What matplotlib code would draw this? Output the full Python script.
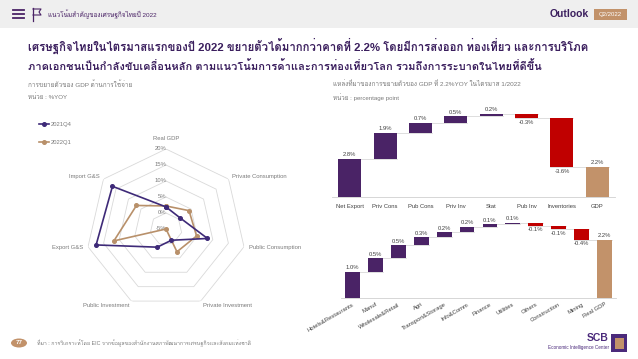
import numpy as np
import matplotlib
matplotlib.use("Agg")
import matplotlib.pyplot as plt
from matplotlib import font_manager
from matplotlib.ft2font import FT2Font
from matplotlib.patches import Rectangle, Circle
from matplotlib.lines import Line2D

# ---- data ----
radar_cats = ["Real GDP", "Private Consumption", "Public Consumption", "Private Investment",
              "Public Investment", "Export G&S", "Import G&S"]
q4_2021 = [1.9, 0.6, 8.3, -1.1, 1.3, 17.4, 16.4]
q1_2022 = [2.2, 4.2, 4.8, 2.9, -5.0, 11.7, 6.8]
radar_ticks = [-5, 0, 5, 10, 15, 20]

exp_cats = ["Net Export", "Priv Cons", "Pub Cons", "Priv Inv", "Stat", "Pub Inv", "Inventories"]
exp_vals = [2.8, 1.9, 0.7, 0.5, 0.2, -0.3, -3.6]
gdp_total = 2.2

sec_cats = ["Hotels&Restaurants", "Manuf", "Wholesale&Retail", "Agri", "Transport&Storage",
            "Info&Comm", "Finance", "Utilities", "Others", "Construction", "Mining"]
sec_vals = [1.0, 0.5, 0.5, 0.3, 0.2, 0.2, 0.1, 0.05, -0.1, -0.13, -0.4]

PURPLE = "#4a2366"
RED = "#c00000"
TAN = "#c2926a"
Q4C = "#3e2a78"
Q1C = "#b8906a"
GRAY = "#7a7a7a"


# find a font that has thai glyphs
def find_thai_font():
    for f in font_manager.fontManager.ttflist:
        try:
            if 0x0E01 in FT2Font(f.fname).get_charmap():
                return f.name
        except Exception:
            pass
    return None

thai = find_thai_font()
fams = ["Liberation Sans", "DejaVu Sans"]
if thai:
    fams = ["Liberation Sans", thai, "DejaVu Sans"]
plt.rcParams["font.family"] = fams

W, H = 638, 359
fig = plt.figure(figsize=(W / 100, H / 100), dpi=100)
fig.patch.set_facecolor("white")


def fx(x):
    return x / W


def fy(y):
    return 1 - y / H


def txt(x, y, s, **kw):
    fig.text(fx(x), fy(y), s, **kw)


# ---- header ----
fig.patches.append(Rectangle((0, fy(28)), 1, 28 / H, transform=fig.transFigure,
                             facecolor="#efefef", edgecolor="none"))
for yy in (10, 14, 18):
    fig.lines.append(Line2D([fx(13), fx(24)], [fy(yy), fy(yy)], transform=fig.transFigure,
                            color=PURPLE, lw=1.3))
fig.lines.append(Line2D([fx(33), fx(33)], [fy(8), fy(21)], transform=fig.transFigure, color=PURPLE, lw=0.9))
fig.lines.append(Line2D([fx(33), fx(41), fx(39), fx(41), fx(33)], [fy(9), fy(9), fy(12), fy(15), fy(15)],
                        transform=fig.transFigure, color=PURPLE, lw=0.8))
txt(48, 14, "แนวโน้มสำคัญของเศรษฐกิจไทยปี 2022", fontsize=4.6, color=PURPLE, va="center")
txt(589, 14, "Outlook", fontsize=7.5, color="#3b1f5e", fontweight="bold",
    ha="right", va="center")
fig.patches.append(Rectangle((fx(594), fy(20)), 33 / W, 11 / H, transform=fig.transFigure,
                             facecolor=TAN, edgecolor="none"))
txt(610.5, 14.5, "Q2/2022", fontsize=4.3, color="white", ha="center", va="center")

# ---- title ----
txt(28, 46, "เศรษฐกิจไทยในไตรมาสแรกของปี 2022 ขยายตัวได้มากกว่าคาดที่ 2.2% โดยมีการส่งออก ท่องเที่ยว และการบริโภค",
    fontsize=8.2, color="#3b1f5e", fontweight="bold", va="center")
txt(28, 67, "ภาคเอกชนเป็นกำลังขับเคลื่อนหลัก ตามแนวโน้มการค้าและการท่องเที่ยวโลก รวมถึงการระบาดในไทยที่ดีขึ้น",
    fontsize=8.0, color="#3b1f5e", fontweight="bold", va="center")

txt(28, 84, "การขยายตัวของ GDP ด้านการใช้จ่าย", fontsize=4.6, color=GRAY, va="center")
txt(333, 84, "แหล่งที่มาของการขยายตัวของ GDP ที่ 2.2%YOY ในไตรมาส 1/2022", fontsize=4.6, color=GRAY, va="center")
txt(28, 97, "หน่วย : %YOY", fontsize=4.4, color=GRAY, va="center")
txt(333, 97, "หน่วย : percentage point", fontsize=4.4, color=GRAY, va="center")

# ---- radar ----
cx, cy, R = 166, 229, 80
rax = fig.add_axes([fx(cx - R), fy(cy + R), 2 * R / W, 2 * R / H], projection="polar")
rax.set_theta_zero_location("N")
rax.set_theta_direction(-1)
rax.grid(False)
rax.spines["polar"].set_visible(False)
rax.set_xticks([])
rax.set_yticks([])
rax.patch.set_alpha(0)

ang = np.linspace(0, 2 * np.pi, len(radar_cats), endpoint=False)
ang_c = np.append(ang, ang[0])
for lv in radar_ticks[1:]:
    rax.plot(ang_c, [lv] * len(ang_c), color="#d9d9d9", lw=0.6, zorder=1)
for lv in radar_ticks:
    rax.text(0, lv, f"{lv}%", fontsize=4.2, color=GRAY, ha="right", va="center", zorder=3)

l1, = rax.plot(ang_c, q4_2021 + q4_2021[:1], color=Q4C, lw=1.2, marker="o", ms=2.6, zorder=4, label="2021Q4")
l2, = rax.plot(ang_c, q1_2022 + q1_2022[:1], color=Q1C, lw=1.2, marker="o", ms=2.6, zorder=3, label="2022Q1")
rax.set_rlim(radar_ticks[0], radar_ticks[-1])

for a, name in zip(ang, radar_cats):
    if a == 0:
        rax.text(a, 23.2, name, fontsize=4.2, color=GRAY, ha="center", va="center")
    elif a < np.pi:
        rax.text(a, 21.5, name, fontsize=4.2, color=GRAY, ha="left", va="center")
    else:
        rax.text(a, 21.5, name, fontsize=4.2, color=GRAY, ha="right", va="center")

fig.legend(handles=[l1, l2], loc="upper left", bbox_to_anchor=(fx(34), fy(117)), frameon=False,
           fontsize=4.2, handlelength=1.6, labelspacing=2.2, handletextpad=0.3,
           labelcolor=GRAY)


# ---- waterfalls ----
def waterfall(ax, cats, vals, total, total_label, ylim):
    n = len(cats)
    x = np.arange(n + 1)
    starts = np.concatenate([[0], np.cumsum(vals)[:-1]])
    cols = [PURPLE if v >= 0 else RED for v in vals]
    ax.bar(x[:n], vals, bottom=starts, width=0.65, color=cols, zorder=3)
    ax.bar(x[n], total, width=0.65, color=TAN, zorder=3)
    ends = starts + np.array(vals)
    for i in range(n):
        ax.plot([x[i] - 0.325, x[i + 1] + 0.325], [ends[i], ends[i]], color="#d0d0d0", lw=0.5, zorder=2)
    off = ylim[1] * 0.02
    for i, v in enumerate(vals):
        if v >= 0:
            ax.text(x[i], ends[i] + off, f"{v:.1f}%", ha="center", va="bottom",
                    fontsize=4.2, color="#404040")
        else:
            ax.text(x[i], ends[i] - off, f"{v:.1f}%", ha="center", va="top",
                    fontsize=4.2, color="#404040")
    ax.text(x[n], total + off, f"{total:.1f}%", ha="center", va="bottom",
            fontsize=4.2, color="#404040")
    ax.set_xlim(-0.5, n + 0.5)
    ax.set_ylim(*ylim)
    for s in ("top", "right", "left"):
        ax.spines[s].set_visible(False)
    ax.spines["bottom"].set_color("#d0d0d0")
    ax.spines["bottom"].set_linewidth(0.6)
    ax.set_yticks([])
    ax.set_xticks(x)
    ax.set_xticklabels(list(cats) + [total_label])
    ax.tick_params(axis="x", length=0, labelsize=4.2, labelcolor="#404040")
    ax.patch.set_alpha(0)


ax1 = fig.add_axes([fx(332), fy(196.7), (615 - 332) / W, 88.4 / H])
waterfall(ax1, exp_cats, exp_vals, gdp_total, "GDP", (0, 6.5))
ax1.tick_params(axis="x", pad=5)

ax2 = fig.add_axes([fx(341), fy(297.7), (616 - 341) / W, 81.2 / H])
waterfall(ax2, sec_cats, sec_vals, gdp_total, "Real GDP", (0, 3.1))
for lab in ax2.get_xticklabels():
    lab.set_rotation(30)
    lab.set_ha("right")
    lab.set_rotation_mode("anchor")
ax2.tick_params(axis="x", pad=3)

# ---- footer ----
fig.patches.append(Circle((fx(19), fy(343)), 8 / W, transform=fig.transFigure, facecolor=TAN,
                          edgecolor="none"))
txt(19, 343, "77", fontsize=4.5, color="white", ha="center", va="center", fontweight="bold")
txt(37, 343, "ที่มา : การวิเคราะห์โดย EIC จากข้อมูลของสำนักงานสภาพัฒนาการเศรษฐกิจและสังคมแห่งชาติ",
    fontsize=3.8, color=GRAY, va="center")

txt(609, 338, "SCB", fontsize=7.5, color="#4b2a7b", fontweight="bold", ha="right", va="center")
txt(609, 348, "Economic Intelligence Center", fontsize=3.3, color="#4b2a7b", ha="right", va="center")
fig.patches.append(Rectangle((fx(611), fy(352)), 16 / W, 18 / H, transform=fig.transFigure,
                             facecolor="#4b2a7b", edgecolor="none"))
fig.patches.append(Rectangle((fx(614.5), fy(348.5)), 9 / W, 11 / H, transform=fig.transFigure,
                             facecolor=TAN, edgecolor="none"))

fig.savefig("out.png", dpi=100)
